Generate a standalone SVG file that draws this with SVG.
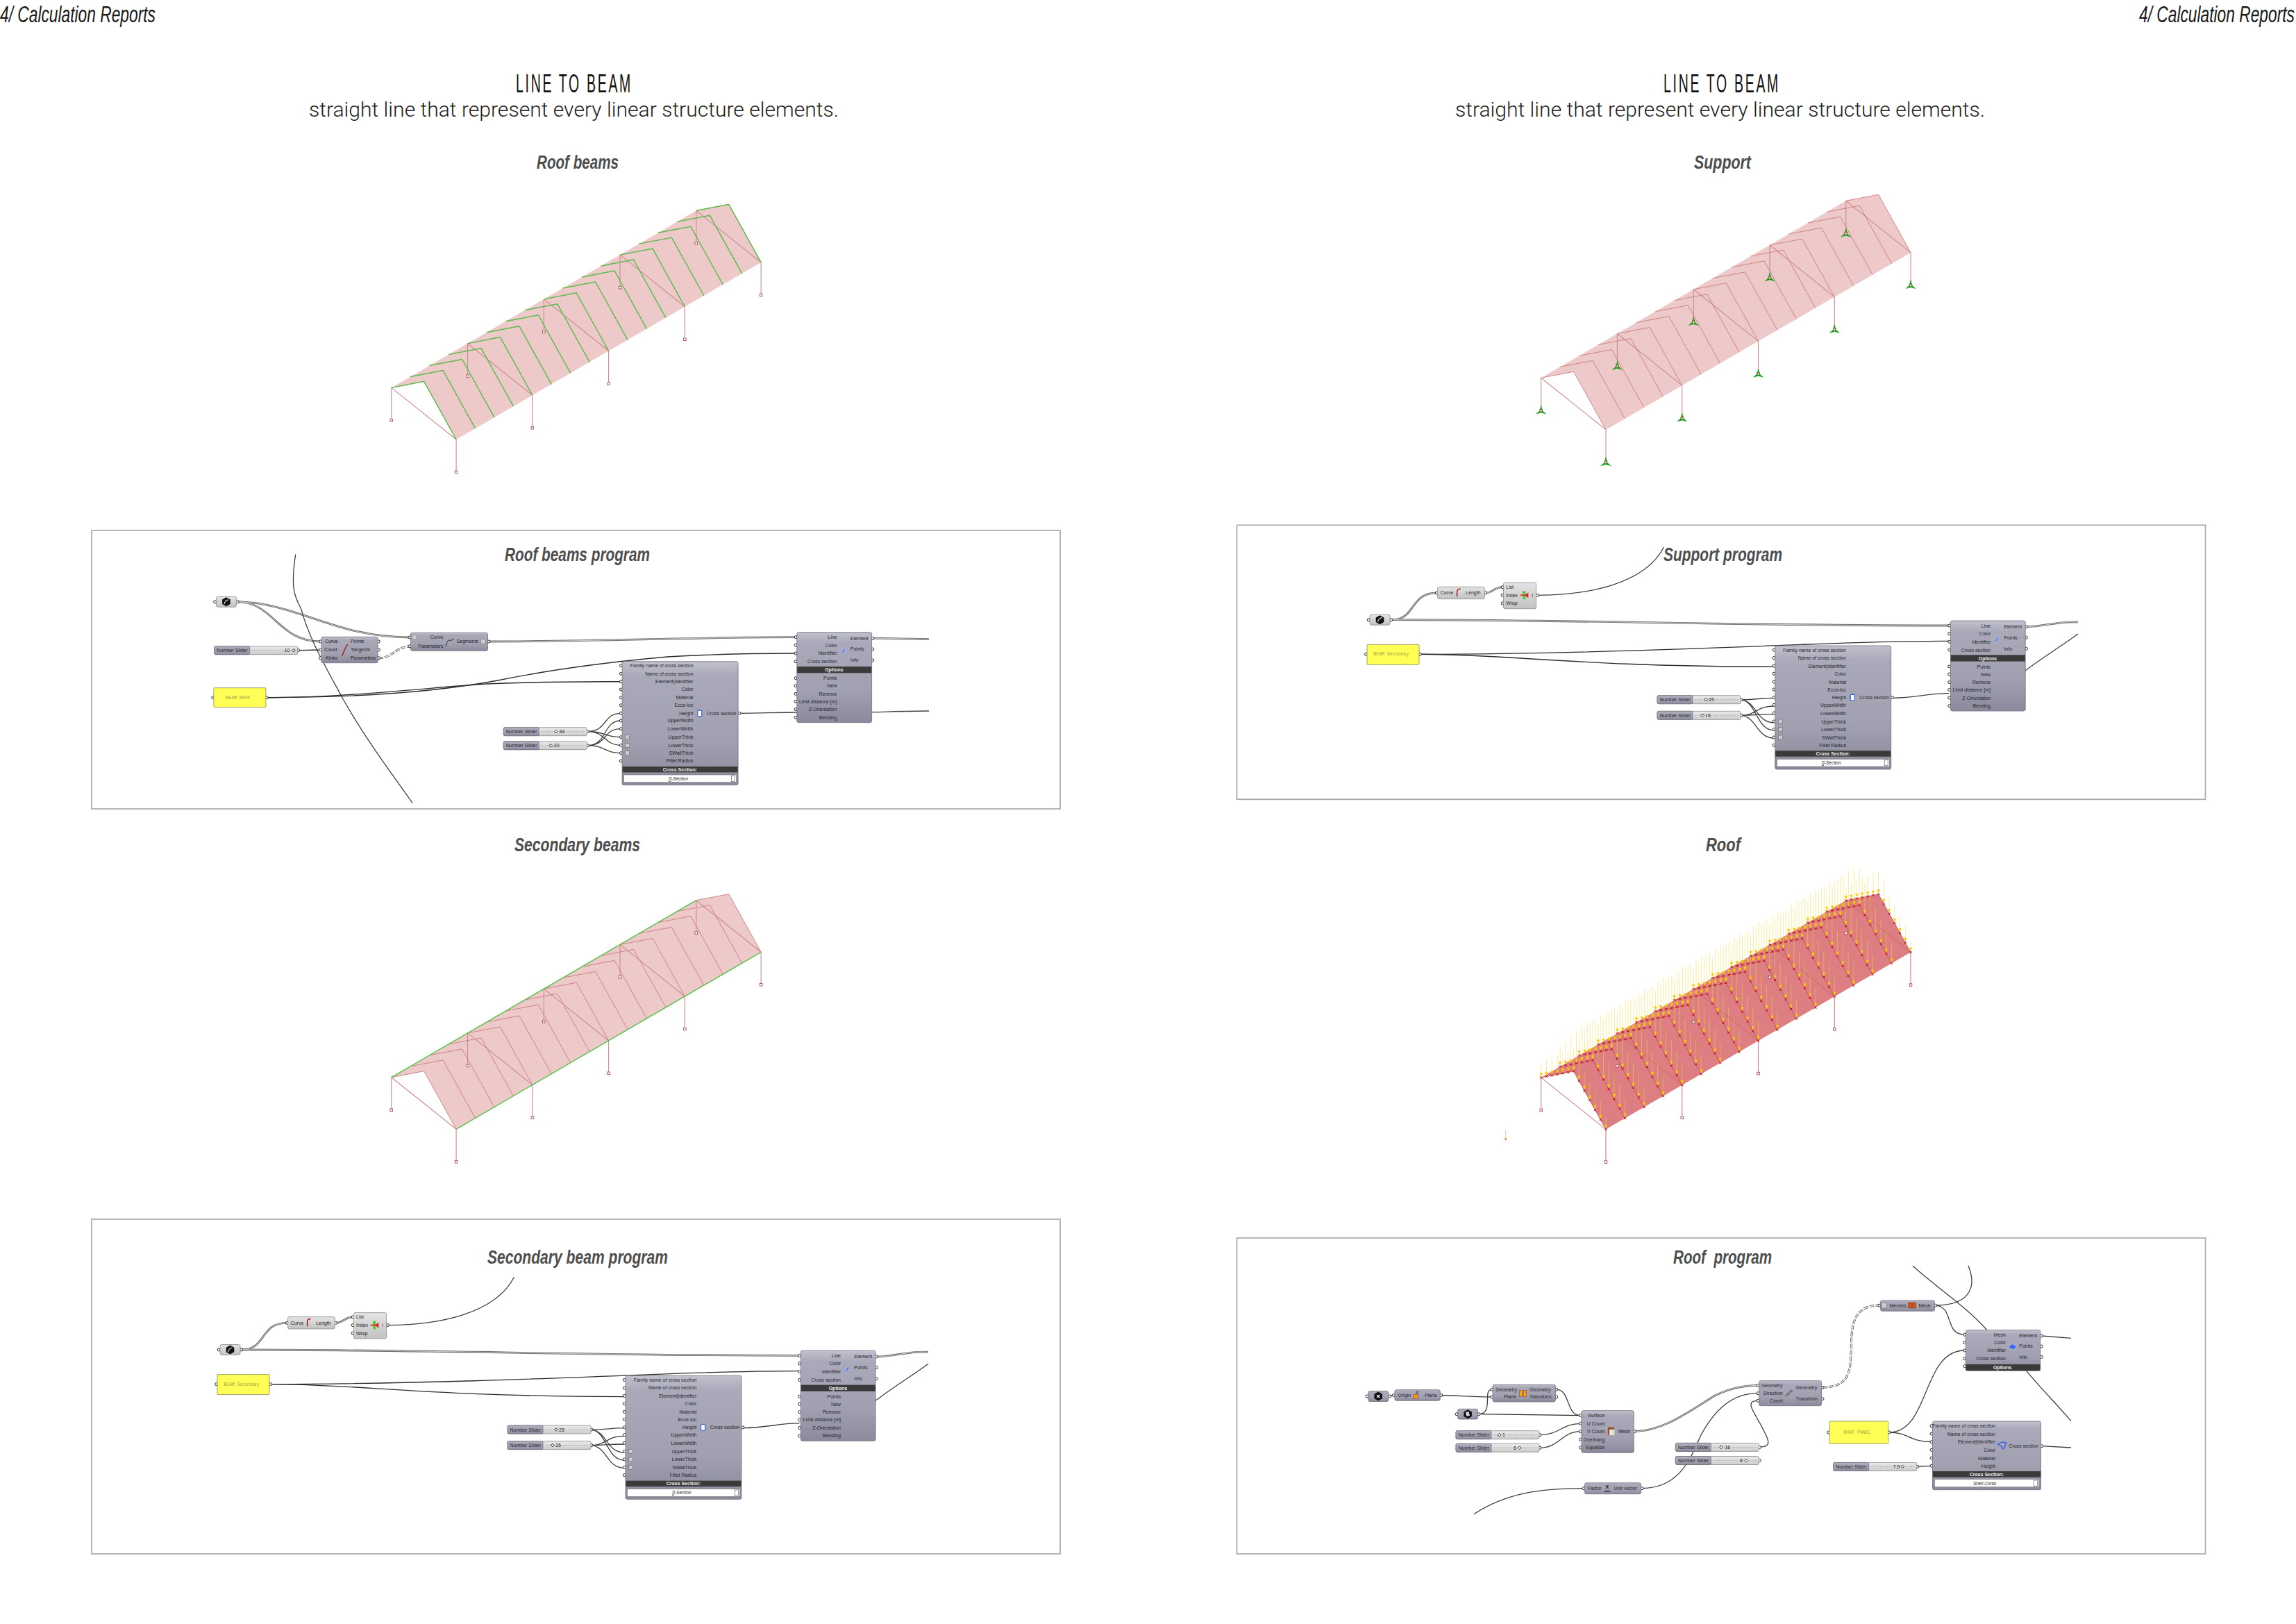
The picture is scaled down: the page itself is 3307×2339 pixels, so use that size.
<svg xmlns="http://www.w3.org/2000/svg" width="3307" height="2339" viewBox="0 0 3307 2339">
<style>
text{font-family:"Liberation Sans",Arial,sans-serif}
.h{font-size:33px;font-style:italic;fill:#1a1a1a}
.ti{font-family:"Liberation Sans Narrow","Liberation Sans",sans-serif;font-size:36px;letter-spacing:5px;fill:#111}
.su{font-family:Roboto,"Liberation Sans",sans-serif;font-weight:300;font-size:30px;fill:#222}
.la{font-size:27px;font-weight:700;font-style:italic;fill:#4d4d4d}
.t{font-size:7px;fill:#26262e}
.r{text-anchor:end}
.c{text-anchor:middle}
.bw{font-size:7px;font-weight:700;fill:#f2f2f2;text-anchor:middle}
.i{font-style:italic;font-size:6.5px;fill:#222;text-anchor:middle}
.ym{font-family:"Liberation Mono",monospace;font-size:6.5px;fill:#a3a347;text-anchor:middle}
.fr{fill:#fff;stroke:#aaa;stroke-width:1.7}
.b{fill:url(#g);stroke:#6f6f7d;stroke-width:.8}
.l{fill:url(#gl);stroke:#8a8a8a;stroke-width:.8}
.sl{fill:url(#gs);stroke:#8a8a8a;stroke-width:.8}
.p{fill:#fff;stroke:#111;stroke-width:.9}
.y{fill:#ffff55;stroke:#85855f;stroke-width:.8}
.bar{fill:#3a3a3a}
.w{fill:none;stroke:#3f3f3f;stroke-width:1.3}
.wk{fill:none;stroke:#2c2c2c;stroke-width:1.35}
.dk{fill:none;stroke:#555;stroke-width:3;stroke-dasharray:7 2}
.dw{fill:none;stroke:#eee;stroke-width:1.5;stroke-dasharray:7 2}
.rf{fill:#eec9c9;stroke:none}
.fl{fill:none;stroke:#c97a7d;stroke-width:.9}
.cl{fill:none;stroke:#c98b8e;stroke-width:1.1}
.sq{fill:#fff;stroke:#a94a50;stroke-width:.9}
.gn{fill:none;stroke:#57c24c;stroke-width:1.4}
</style>
<defs>
<linearGradient id="g" x1="0" y1="0" x2="0" y2="1"><stop offset="0" stop-color="#c0c0ce"/><stop offset=".12" stop-color="#a9a9b9"/><stop offset=".65" stop-color="#a0a0b0"/><stop offset="1" stop-color="#8a8a9c"/></linearGradient>
<linearGradient id="gl" x1="0" y1="0" x2="0" y2="1"><stop offset="0" stop-color="#e4e4e4"/><stop offset="1" stop-color="#c2c2c2"/></linearGradient>
<linearGradient id="gs" x1="0" y1="0" x2="0" y2="1"><stop offset="0" stop-color="#e9e9e9"/><stop offset="1" stop-color="#cdcdcd"/></linearGradient>
<path id="fr" d="M0 0l46.9-9 46.4 83.6M27.44-15.94l46.9-9 46.4 83.6M54.88-31.88l46.9-9 46.4 83.6M82.32-47.82l46.9-9 46.4 83.6M109.76-63.76l46.9-9 46.4 83.6M137.2-79.7l46.9-9 46.4 83.6M164.64-95.64l46.9-9 46.4 83.6M192.08-111.58l46.9-9 46.4 83.6M219.52-127.52l46.9-9 46.4 83.6M246.96-143.46l46.9-9 46.4 83.6M274.4-159.4l46.9-9 46.4 83.6M301.84-175.34l46.9-9 46.4 83.6M329.28-191.28l46.9-9 46.4 83.6M356.72-207.22l46.9-9 46.4 83.6M384.16-223.16l46.9-9 46.4 83.6M411.6-239.1l46.9-9 46.4 83.6M439.04-255.04l46.9-9 46.4 83.6"/>
<path id="cols" d="M0 0v47M93.3 74.6v47M109.76-63.76v47M203.06 10.84v47M219.52-127.52v47M312.82-52.92v47M329.28-191.28v47M422.58-116.68v47M439.04-255.04v47M532.34-180.44v47"/>
<path id="diag" d="M0 0l93.3 74.6M109.76-63.76l93.3 74.6M219.52-127.52l93.3 74.6M329.28-191.28l93.3 74.6M439.04-255.04l93.3 74.6"/>
<polygon id="poly" points="0,0 46.9,-9 93.3,74.6 532.3,-180.4 485.9,-264 439,-255"/>
<g id="sqs"><rect class="sq" x="-1.8" y="45.2" width="3.6" height="3.6"/><rect class="sq" x="91.5" y="119.8" width="3.6" height="3.6"/><rect class="sq" x="108" y="-18.6" width="3.6" height="3.6"/><rect class="sq" x="201.3" y="56" width="3.6" height="3.6"/><rect class="sq" x="217.7" y="-82.3" width="3.6" height="3.6"/><rect class="sq" x="311" y="-7.7" width="3.6" height="3.6"/><rect class="sq" x="327.5" y="-146.1" width="3.6" height="3.6"/><rect class="sq" x="420.8" y="-71.5" width="3.6" height="3.6"/><rect class="sq" x="437.2" y="-209.8" width="3.6" height="3.6"/><rect class="sq" x="530.5" y="-135.2" width="3.6" height="3.6"/></g>
<g id="roof"><use href="#poly" class="rf"/><use href="#cols" class="cl"/><use href="#diag" class="cl"/><use href="#fr" class="fl"/><use href="#sqs"/></g>
<g id="tri"><path d="M0-7.5L1.9 .2 7.2 5 0 3-7.2 5-1.9 .2Z" fill="#0ea50e" stroke="#0a8a0a" stroke-width=".3"/><path d="M0-2.2L2 1.4H-2Z" fill="#fff" stroke="#a94a50" stroke-width=".6"/></g>
<g id="pt"><path d="M-2.3-6.8h4.6L0-1.6Z" fill="#ffc800"/><path d="M-1.5-1.5L1.5 1.5M1.5-1.5L-1.5 1.5" stroke="#c40000" stroke-width="1"/></g>
<g id="lt"><use href="#pt"/><use href="#pt" x="7.8" y="-1.5"/><use href="#pt" x="15.6" y="-3"/><use href="#pt" x="23.5" y="-4.5"/><use href="#pt" x="31.3" y="-6"/><use href="#pt" x="39.1" y="-7.5"/><use href="#pt" x="46.9" y="-9"/><use href="#pt" x="54.6" y="4.9"/><use href="#pt" x="62.4" y="18.9"/><use href="#pt" x="70.1" y="32.8"/><use href="#pt" x="77.8" y="46.7"/><use href="#pt" x="85.6" y="60.7"/><use href="#pt" x="93.3" y="74.6"/></g>
<path id="li" d="M0-6v-24M7.8-7.5v-30M15.6-9v-36M23.5-10.5v-41M31.3-12v-46M39.1-13.5v-50M46.9-15v-50M54.6-1.1v-40M62.4 12.9v-34M70.1 26.8v-32M77.8 40.7v-30M85.6 54.7v-28M93.3 68.6v-22" fill="none" stroke="#f5d93a" stroke-width=".9" opacity=".55"/>
<path id="le" d="M0-6v-12M7.8-7.5v-18M15.6-9v-20M23.5-10.5v-22M31.3-12v-24M39.1-13.5v-26M46.9-15v-26M54.6-1.1v-28M62.4 12.9v-20M70.1 26.8v-20M77.8 40.7v-20M85.6 54.7v-20M93.3 68.6v-10" fill="none" stroke="#f5d93a" stroke-width=".9" opacity=".55"/>
<path id="dm" d="M0-2.3L2.3 0 0 2.3-2.3 0Z" fill="#fff" stroke="#111" stroke-width=".9"/>
<g id="slb"><circle class="p" cx="121" cy="6" r="2"/><rect class="sl" width="120" height="12" rx="2"/><path d="M55 6H116" stroke="#aaa" stroke-dasharray="1 1.5" stroke-width="1.2"/><rect class="b" width="51" height="12" rx="2"/></g>
<g id="cf"><path d="M14.5 1l5.8 3.2v6.6L14.5 14l-5.8-3.2V4.2Z" fill="#111"/></g>
<g id="prl"><circle class="p" cx="-1.8" cy="7.5" r="2"/><circle class="p" cx="30.8" cy="7.5" r="2"/><rect class="l" width="29" height="15" rx="2.5"/><use href="#cf"/><path d="M11.5 10.5Q13 5 17.5 4.5" fill="none" stroke="#ddd" stroke-width="1.2"/></g>
<g id="csb"><circle class="p" cx="-1.7" cy="6" r="2"/><circle class="p" cx="-1.7" cy="17.6" r="2"/><circle class="p" cx="-1.7" cy="29" r="2"/><circle class="p" cx="-1.7" cy="40.3" r="2"/><circle class="p" cx="-1.7" cy="52" r="2"/><circle class="p" cx="-1.7" cy="63" r="2"/><circle class="p" cx="-1.7" cy="74.6" r="2"/><circle class="p" cx="-1.7" cy="85.3" r="2"/><circle class="p" cx="-1.7" cy="97" r="2"/><circle class="p" cx="-1.7" cy="109" r="2"/><circle class="p" cx="-1.7" cy="120.6" r="2"/><circle class="p" cx="-1.7" cy="132" r="2"/><circle class="p" cx="-1.7" cy="143.3" r="2"/><circle class="p" cx="168.9" cy="74.6" r="2"/><rect class="b" width="167" height="178" rx="2.5"/><rect class="bar" x=".5" y="151.3" width="166" height="8.4"/><rect x="2.6" y="163.3" width="162" height="10.7" fill="#fff" stroke="#777" stroke-width=".6"/><rect x="157.5" y="164.6" width="5" height="8.2" fill="#fff" stroke="#666" stroke-width=".7"/><rect x="108.6" y="70.4" width="6" height="8.6" rx="1" fill="#fff" stroke="#2f56d8" stroke-width="1.1"/><g fill="#ccc" stroke="#666" stroke-width=".6"><rect x="4.6" y="106" width="6" height="6"/><rect x="4.6" y="117.6" width="6" height="6"/><rect x="4.6" y="129" width="6" height="6"/></g></g>
<g id="lbb"><circle class="p" cx="-1.7" cy="7" r="2"/><circle class="p" cx="-1.7" cy="18.6" r="2"/><circle class="p" cx="-1.7" cy="30.3" r="2"/><circle class="p" cx="-1.7" cy="42" r="2"/><circle class="p" cx="-1.7" cy="66" r="2"/><circle class="p" cx="-1.7" cy="77" r="2"/><circle class="p" cx="-1.7" cy="88.6" r="2"/><circle class="p" cx="-1.7" cy="99.6" r="2"/><circle class="p" cx="-1.7" cy="111" r="2"/><circle class="p" cx="-1.7" cy="122.6" r="2"/><circle class="p" cx="109" cy="8.6" r="2"/><circle class="p" cx="109" cy="24.3" r="2"/><circle class="p" cx="109" cy="40.3" r="2"/><rect class="b" width="107.8" height="130" rx="2.5"/><rect class="bar" x=".4" y="49.3" width="107" height="9.3"/><path d="M64.5 28.5l3-5.8 2.4 1.2-3 5.8-2.6 1.2Z" fill="#4f7df0" stroke="#d8e2ff" stroke-width=".5"/></g>
</defs>
<rect width="3307" height="2339" fill="#fff"/>
<g id="headers">
<text class="h" transform="translate(0 32) scale(.69 1)">4/ Calculation Reports</text>
<text class="h" transform="translate(3081 32) scale(.69 1)">4/ Calculation Reports</text>
<text class="ti" x="743" y="133" textLength="168" lengthAdjust="spacingAndGlyphs">LINE TO BEAM</text>
<text class="ti" x="2396" y="133" textLength="168" lengthAdjust="spacingAndGlyphs">LINE TO BEAM</text>
<text class="su" x="445" y="168" textLength="763" lengthAdjust="spacingAndGlyphs">straight line that represent every linear structure elements.</text>
<text class="su" x="2096" y="168" textLength="763" lengthAdjust="spacingAndGlyphs">straight line that represent every linear structure elements.</text>
<text class="la" x="773" y="243" textLength="118" lengthAdjust="spacingAndGlyphs">Roof beams</text>
<text class="la" x="2440" y="243" textLength="82" lengthAdjust="spacingAndGlyphs">Support</text>
<text class="la" x="741" y="1226" textLength="181" lengthAdjust="spacingAndGlyphs">Secondary beams</text>
<text class="la" x="2457" y="1226" textLength="50" lengthAdjust="spacingAndGlyphs">Roof</text>
</g>
<g id="frames">
<rect class="fr" x="132" y="764" width="1395" height="401"/>
<rect class="fr" x="1781.5" y="756.3" width="1395" height="395"/>
<rect class="fr" x="132" y="1756" width="1395" height="482"/>
<rect class="fr" x="1781.5" y="1783" width="1395" height="455"/>
</g>
<g id="roof-beams" transform="translate(563.8 558.4)"><use href="#roof"/><use href="#fr" class="gn"/></g>
<g id="support" transform="translate(2219.7 544.3)"><use href="#roof"/><use href="#tri" x="0" y="47"/><use href="#tri" x="93.3" y="121.6"/><use href="#tri" x="109.76" y="-16.76"/><use href="#tri" x="203.06" y="57.84"/><use href="#tri" x="219.52" y="-80.52"/><use href="#tri" x="312.82" y="-5.92"/><use href="#tri" x="329.28" y="-144.28"/><use href="#tri" x="422.58" y="-69.68"/><use href="#tri" x="439.04" y="-208.04"/><use href="#tri" x="532.34" y="-133.44"/></g>
<g id="secondary-beams" transform="translate(563.8 1551.7)"><use href="#roof"/><path class="gn" d="M0 0L439-255M93.3 74.6L532.3-180.4"/></g>
<g id="roof-loads" transform="translate(2219.7 1552)">
<use href="#poly" fill="#dd7f82"/><use href="#cols" fill="none" stroke="#c98b8e" stroke-width="1.2"/><use href="#diag" fill="none" stroke="#c7656a" stroke-width="1"/><use href="#fr" fill="none" stroke="#bf4a50" stroke-width=".8"/><use href="#sqs"/>
<use href="#le"/><use href="#li" x="27.44" y="-15.94"/><use href="#li" x="54.88" y="-31.88"/><use href="#li" x="82.32" y="-47.82"/><use href="#li" x="109.76" y="-63.76"/><use href="#li" x="137.2" y="-79.7"/><use href="#li" x="164.64" y="-95.64"/><use href="#li" x="192.08" y="-111.58"/><use href="#li" x="219.52" y="-127.52"/><use href="#li" x="246.96" y="-143.46"/><use href="#li" x="274.4" y="-159.4"/><use href="#li" x="301.84" y="-175.34"/><use href="#li" x="329.28" y="-191.28"/><use href="#li" x="356.72" y="-207.22"/><use href="#li" x="384.16" y="-223.16"/><use href="#li" x="411.6" y="-239.1"/><use href="#le" x="439.04" y="-255.04"/>
<use href="#lt"/><use href="#lt" x="27.44" y="-15.94"/><use href="#lt" x="54.88" y="-31.88"/><use href="#lt" x="82.32" y="-47.82"/><use href="#lt" x="109.76" y="-63.76"/><use href="#lt" x="137.2" y="-79.7"/><use href="#lt" x="164.64" y="-95.64"/><use href="#lt" x="192.08" y="-111.58"/><use href="#lt" x="219.52" y="-127.52"/><use href="#lt" x="246.96" y="-143.46"/><use href="#lt" x="274.4" y="-159.4"/><use href="#lt" x="301.84" y="-175.34"/><use href="#lt" x="329.28" y="-191.28"/><use href="#lt" x="356.72" y="-207.22"/><use href="#lt" x="384.16" y="-223.16"/><use href="#lt" x="411.6" y="-239.1"/><use href="#lt" x="439.04" y="-255.04"/>
<path d="M-51 75v14" stroke="#e3c7a3" stroke-width="1"/><path d="M-53 87h4l-2 4Z" fill="#e09a4a"/>
</g>
<g id="connectors">
<g stroke="#6f6f6f" stroke-width="2.8" fill="none"><g id="wt">
<path d="M340.7 866.7C430 868 480 918 591 918"/>
<path d="M340.7 866.7C395 866.7 400 924 462 924"/>
<path d="M703 924C850 924 1000 917.7 1146 917.7"/>
<path d="M1257 919.3C1285 919.3 1310 920 1338 920.7"/>
<path d="M2004 892.7C2040 892.7 2030 854 2069 854"/>
<path d="M2004 892.7C2300 893 2500 901 2807 901"/>
<path d="M2140 854C2150 854 2152 845.7 2164 845.7"/>
<path d="M2918 902.7C2945 902.7 2965 894 2993 896"/>
<path d="M348 1944C384 1944 374 1905.4 413 1905.4"/>
<path d="M348 1944C644 1944.3 844 1952.3 1151 1952.3"/>
<path d="M484 1905.4C494 1905.4 496 1897 508 1897"/>
<path d="M1262 1954C1289 1954 1309 1945.3 1337 1947.3"/>
<path d="M2354 2061.7C2395 2061 2430 2035 2470 2010C2490 2000 2510 1995.5 2532 1995.3"/>
</g></g>
<use href="#wt" stroke="#c9c9c9" stroke-width="1" fill="none"/>
<path class="w" d="M425.7 798.3C418 850 425 860 433.6 876.7C445 920 470 962 494 1006.7C530 1070 565 1115 594.3 1156.7"/>
<path class="wk" d="M429 936.7L463 936"/>
<path class="dk" d="M545 948C565 948 570 931 591 931"/><path class="dw" d="M545 948C565 948 570 931 591 931"/>
<path class="wk" d="M384 1004.7C500 1004.7 620 998 717 980C790 965 860 955 961 946C1030 942 1090 941 1146 941"/>
<path class="wk" d="M384 1004.7C500 1004.7 620 990 700 985C760 982 830 982 894 981.7"/>
<path class="w" d="M1065 1027.3C1100 1027 1120 1026 1148 1026M1256 1025.7C1285 1025 1310 1024 1338 1024"/>
<path class="w" d="M846.5 1053.5C875 1053.5 868 1027.3 894.4 1027.3M846.5 1053.5C872 1053.5 870 1061.7 894.4 1061.7M846.5 1053.5C872 1053.5 870 1073.3 894.4 1073.3M846.5 1073.5C875 1073.5 868 1038 894.4 1038M846.5 1073.5C875 1073.5 868 1049.7 894.4 1049.7M846.5 1073.5C872 1073.5 870 1084.7 894.4 1084.7"/>
<path class="w" d="M2214.5 857.3C2290 857 2370 840 2396.5 788"/>
<path class="wk" d="M2046 942.3C2250 942 2450 934 2603 928C2680 925 2750 923.3 2807 923.3"/>
<path class="wk" d="M2046 942.3C2170 942 2270 960 2555 960.3"/>
<path class="w" d="M2726.5 1005.3C2760 1005.3 2780 998 2807.4 998.7"/>
<path class="w" d="M2916 966.7C2945 945 2970 930 2993 913"/>
<path class="w" d="M2507.6 1007.8C2530 1007.8 2535 1005.3 2554.7 1005.3M2507.6 1007.8C2530 1010 2530 1040.7 2554.7 1040.7M2507.6 1007.8C2530 1010 2530 1051.7 2554.7 1051.7M2507.6 1030.4C2530 1030 2530 1017 2554.7 1017M2507.6 1030.4C2530 1030 2530 1028.7 2554.7 1028.7M2507.6 1030.4C2530 1032 2530 1063 2554.7 1063"/>
<path class="w" d="M558.5 1908.6C634 1908.3 714 1891.3 740.5 1839.3"/>
<path class="wk" d="M390 1993.6C594 1993.3 794 1985.3 947 1979.3C1024 1976.3 1094 1974.6 1151 1974.6"/>
<path class="wk" d="M390 1993.6C514 1993.3 614 2011.3 899 2011.6"/>
<path class="w" d="M1070.5 2056.6C1104 2056.6 1124 2049.3 1151.4 2050"/>
<path class="w" d="M1260 2018C1289 1996.3 1314 1981.3 1337 1964.3"/>
<path class="w" d="M851.6 2059.1C874 2059.1 879 2056.6 898.7 2056.6M851.6 2059.1C874 2061.3 874 2092 898.7 2092M851.6 2059.1C874 2061.3 874 2103 898.7 2103M851.6 2081.7C874 2081.3 874 2068.3 898.7 2068.3M851.6 2081.7C874 2081.3 874 2080 898.7 2080M851.6 2081.7C874 2083.3 874 2114.3 898.7 2114.3"/>
<path class="w" d="M2000 2011L2007 2009.5M2075.5 2009.5C2100 2010 2120 2012 2148.6 2012"/>
<path class="wk" d="M2130 2036.7L2276.4 2038.7"/>
<path class="w" d="M2130 2036.7C2152 2036 2135 2001 2148.6 2001.3M2241.8 2001.3C2262 2001.3 2255 2038.7 2276.4 2038.7M2218.2 2066.7C2245 2066.7 2250 2050.3 2276.4 2050.3M2218.2 2085.3C2245 2085.3 2250 2061.7 2276.4 2061.7M2123 2180.7C2170 2150 2220 2143.7 2281 2143.7"/>
<path class="w" d="M2365 2143.7C2420 2143 2435 2100 2450 2066.7C2470 2030 2495 2006.7 2532 2006.7"/>
<path class="w" d="M2534.3 2084C2556 2084 2545 2070 2535 2050C2522 2028 2515 2017.3 2532 2017.3"/>
<path class="dk" d="M2625 1998C2660 1998 2665 1980 2666 1950C2667 1915 2665 1880 2707 1880"/><path class="dw" d="M2625 1998C2660 1998 2665 1980 2666 1950C2667 1915 2665 1880 2707 1880"/>
<path class="w" d="M2787.7 1880C2815 1882 2800 1922 2829.8 1922.3M2787.7 1880C2830 1880 2850 1860 2835 1823M2755 1823.3C2790 1855 2830 1880 2862 1915.7M2918.6 1974.3C2940 2000 2960 2020 2983 2046.7M2940.4 1924L2983 1927.3M2940.8 2082.7L2983 2085"/>
<path class="w" d="M2721 2063C2780 2063 2768 1945 2829.8 1945M2721 2063C2750 2063 2750 2076.7 2782 2076.7M2762.4 2112L2782 2111.3"/>
</g>
<g id="program-labels">
<text class="la" x="727" y="808" textLength="209" lengthAdjust="spacingAndGlyphs">Roof beams program</text>
<text class="la" x="2396" y="808" textLength="171" lengthAdjust="spacingAndGlyphs">Support program</text>
<text class="la" x="702" y="1820" textLength="260" lengthAdjust="spacingAndGlyphs">Secondary beam program</text>
<text class="la" x="2410" y="1820" textLength="142" lengthAdjust="spacingAndGlyphs" xml:space="preserve">Roof  program</text>
</g>

<g id="p1-curve" transform="translate(311.4 859.3)"><use href="#prl"/></g>
<g id="p1-slider" transform="translate(308.6 930.7)"><use href="#slb"/><text class="t" x="3.5" y="8.6">Number Slider</text><text class="t" x="101" y="8.6">10</text><use href="#dm" x="114.5" y="6"/></g>
<g id="p1-divide" transform="translate(462.9 917.3)"><circle class="p" cx="-1.5" cy="6.7" r="2"/><circle class="p" cx="-1.5" cy="18.7" r="2"/><circle class="p" cx="-1.5" cy="30.4" r="2"/><circle class="p" cx="82.5" cy="6.7" r="2"/><circle class="p" cx="82.5" cy="18.7" r="2"/><circle class="p" cx="82.5" cy="30.4" r="2"/><rect class="b" width="81.4" height="37.4" rx="2.5"/><text class="t" x="5" y="9.2">Curve</text><text class="t" x="4" y="21.2">Count</text><text class="t" x="6" y="32.9">Kinks</text><text class="t" x="42" y="9.2">Points</text><text class="t" x="42" y="21.2">Tangents</text><text class="t" x="42" y="32.9">Parameters</text><path d="M30 27Q36 12 38 11" fill="none" stroke="#a11" stroke-width="1.4"/></g>
<g id="p1-shatter" transform="translate(591.4 911.3)"><circle class="p" cx="-1.5" cy="6.7" r="2"/><circle class="p" cx="-1.5" cy="19.4" r="2"/><circle class="p" cx="112.6" cy="12.7" r="2"/><rect class="b" width="111.1" height="26" rx="2.5"/><rect x="2" y="3" width="7" height="7" rx="1" fill="#ccc" stroke="#666" stroke-width=".6"/><rect x="101" y="9" width="7" height="7" rx="1" fill="#ccc" stroke="#666" stroke-width=".6"/><text class="t r" x="47" y="9.2">Curve</text><text class="t r" x="47" y="21.9">Parameters</text><text class="t" x="66" y="15.2">Segments</text><path d="M51 19Q53 10 56 11T62 8" fill="none" stroke="#222" stroke-width="1.2" stroke-dasharray="2 1"/></g>
<g id="p1-panel" transform="translate(307.9 990.7)"><circle class="p" cx="-1.2" cy="14" r="2"/><circle class="p" cx="76.2" cy="14" r="2"/><rect class="y" width="75" height="28" rx="1"/><text class="ym" x="35" y="16">BEAM ROOF</text></g>
<g id="p1-slider34" transform="translate(725.3 1047.7)"><use href="#slb"/><text class="t" x="3.5" y="8.6">Number Slider</text><use href="#dm" x="75.7" y="6"/><text class="t" x="80" y="8.6">34</text></g>
<g id="p1-slider20" transform="translate(725.3 1067.7)"><use href="#slb"/><text class="t" x="3.5" y="8.6">Number Slider</text><use href="#dm" x="68" y="6"/><text class="t" x="72.5" y="8.6">20</text></g>
<g id="p1-section" transform="translate(896.1 952.7)"><use href="#csb"/><text class="t r" x="102.3" y="8.5">Family name of cross section</text><text class="t r" x="102.3" y="20.1">Name of cross section</text><text class="t r" x="102.3" y="31.5" font-size="6">Element|Identifier</text><text class="t r" x="102.3" y="42.8">Color</text><text class="t r" x="102.3" y="54.5">Material</text><text class="t r" x="102.3" y="65.5">Ecce-loc</text><text class="t r" x="102.3" y="77.1">Height</text><text class="t r" x="102.3" y="87.8">UpperWidth</text><text class="t r" x="102.3" y="99.5">LowerWidth</text><text class="t r" x="102.3" y="111.5">UpperThick</text><text class="t r" x="102.3" y="123.1">LowerThick</text><text class="t r" x="102.3" y="134.5">SWallThick</text><text class="t r" x="102.3" y="145.8">Fillet Radius</text><text class="t" x="121.7" y="77.1">Cross section</text><text class="bw" x="83.4" y="158">Cross Section:</text><text class="i" x="81" y="171">[]-Section</text></g>
<g id="p1-beam" transform="translate(1147.8 910.7)"><use href="#lbb"/><text class="t r" x="57.7" y="9.5">Line</text><text class="t r" x="57.7" y="21.1">Color</text><text class="t r" x="57.7" y="32.8">Identifier</text><text class="t r" x="57.7" y="44.5">Cross section</text><text class="t r" x="57.7" y="68.5">Points</text><text class="t r" x="57.7" y="79.5">New</text><text class="t r" x="57.7" y="91.1">Remove</text><text class="t r" x="57.7" y="102.1">Limit distance [m]</text><text class="t r" x="57.7" y="113.5">Z-Orientation</text><text class="t r" x="57.7" y="125.1">Bending</text><text class="t" x="77" y="11.1">Element</text><text class="t" x="77" y="26.8">Points</text><text class="t" x="77" y="42.8">Info</text><text class="bw" x="53.6" y="56.5">Options</text></g>

<g id="p2-curve" transform="translate(1973 885.2)"><use href="#prl"/></g>
<g id="p2-length" transform="translate(2070.6 845.3)"><circle class="p" cx="-1.3" cy="8.7" r="2"/><circle class="p" cx="69" cy="8.7" r="2"/><rect class="l" width="67.7" height="17.4" rx="2"/><text class="t" x="4" y="11.2">Curve</text><text class="t" x="40.5" y="11.2">Length</text><path d="M28 14V7Q28 3 33 3" fill="none" stroke="#a11" stroke-width="1.5"/></g>
<g id="p2-list" transform="translate(2165.5 839.3)"><circle class="p" cx="-1.3" cy="6.4" r="2"/><circle class="p" cx="-1.3" cy="18" r="2"/><circle class="p" cx="-1.3" cy="29.7" r="2"/><circle class="p" cx="49" cy="18" r="2"/><rect class="l" width="47" height="37.4" rx="2"/><text class="t" x="3.5" y="8.9">List</text><text class="t" x="3.5" y="20.5">Index</text><text class="t" x="3.5" y="32.2">Wrap</text><text class="t" x="41" y="20.5">i</text><rect x="27.5" y="12" width="4.5" height="12" fill="#6cc24a"/><path d="M24 18h8l3-2.4v4.8l-3-2.4" fill="#d22" stroke="#d22" stroke-width="1.6"/></g>
<g id="p2-panel" transform="translate(1969 928.3)"><circle class="p" cx="-1.5" cy="14" r="2"/><circle class="p" cx="76.5" cy="14" r="2"/><rect class="y" width="75" height="29" rx="1"/><text class="ym" x="34.7" y="16">BEAM Seconday</text></g>
<g id="p2-slider25" transform="translate(2387 1001.7)"><use href="#slb"/><text class="t" x="3.5" y="8.6">Number Slider</text><use href="#dm" x="70" y="6"/><text class="t" x="74" y="8.6">25</text></g>
<g id="p2-slider15" transform="translate(2387 1024.3)"><use href="#slb"/><text class="t" x="3.5" y="8.6">Number Slider</text><use href="#dm" x="65" y="6"/><text class="t" x="69" y="8.6">15</text></g>
<g id="p2-section" transform="translate(2556.7 930)"><use href="#csb"/><text class="t r" x="102.3" y="8.5">Family name of cross section</text><text class="t r" x="102.3" y="20.1">Name of cross section</text><text class="t r" x="102.3" y="31.5">Element|Identifier</text><text class="t r" x="102.3" y="42.8">Color</text><text class="t r" x="102.3" y="54.5">Material</text><text class="t r" x="102.3" y="65.5">Ecce-loc</text><text class="t r" x="102.3" y="77.1">Height</text><text class="t r" x="102.3" y="87.8">UpperWidth</text><text class="t r" x="102.3" y="99.5">LowerWidth</text><text class="t r" x="102.3" y="111.5">UpperThick</text><text class="t r" x="102.3" y="123.1">LowerThick</text><text class="t r" x="102.3" y="134.5">SWallThick</text><text class="t r" x="102.3" y="145.8">Fillet Radius</text><text class="t" x="121.7" y="77.1">Cross section</text><text class="bw" x="83.4" y="158">Cross Section:</text><text class="i" x="81" y="171">[]-Section</text></g>
<g id="p2-beam" transform="translate(2809.4 894)"><use href="#lbb"/><text class="t r" x="57.7" y="9.5">Line</text><text class="t r" x="57.7" y="21.1">Color</text><text class="t r" x="57.7" y="32.8">Identifier</text><text class="t r" x="57.7" y="44.5">Cross section</text><text class="t r" x="57.7" y="68.5">Points</text><text class="t r" x="57.7" y="79.5">New</text><text class="t r" x="57.7" y="91.1">Remove</text><text class="t r" x="57.7" y="102.1">Limit distance [m]</text><text class="t r" x="57.7" y="113.5">Z-Orientation</text><text class="t r" x="57.7" y="125.1">Bending</text><text class="t" x="77" y="11.1">Element</text><text class="t" x="77" y="26.8">Points</text><text class="t" x="77" y="42.8">Info</text><text class="bw" x="53.6" y="56.5">Options</text></g>

<g id="p3-curve" transform="translate(317 1936.5)"><use href="#prl"/></g>
<g id="p3-length" transform="translate(414.6 1896.6)"><circle class="p" cx="-1.3" cy="8.7" r="2"/><circle class="p" cx="69" cy="8.7" r="2"/><rect class="l" width="67.7" height="17.4" rx="2"/><text class="t" x="4" y="11.2">Curve</text><text class="t" x="40.5" y="11.2">Length</text><path d="M28 14V7Q28 3 33 3" fill="none" stroke="#a11" stroke-width="1.5"/></g>
<g id="p3-list" transform="translate(509.5 1890.6)"><circle class="p" cx="-1.3" cy="6.4" r="2"/><circle class="p" cx="-1.3" cy="18" r="2"/><circle class="p" cx="-1.3" cy="29.7" r="2"/><circle class="p" cx="49" cy="18" r="2"/><rect class="l" width="47" height="37.4" rx="2"/><text class="t" x="3.5" y="8.9">List</text><text class="t" x="3.5" y="20.5">Index</text><text class="t" x="3.5" y="32.2">Wrap</text><text class="t" x="41" y="20.5">i</text><rect x="27.5" y="12" width="4.5" height="12" fill="#6cc24a"/><path d="M24 18h8l3-2.4v4.8l-3-2.4" fill="#d22" stroke="#d22" stroke-width="1.6"/></g>
<g id="p3-panel" transform="translate(313 1979.6)"><circle class="p" cx="-1.5" cy="14" r="2"/><circle class="p" cx="76.5" cy="14" r="2"/><rect class="y" width="75" height="29" rx="1"/><text class="ym" x="34.7" y="16">BEAM Seconday</text></g>
<g id="p3-slider25" transform="translate(731 2053)"><use href="#slb"/><text class="t" x="3.5" y="8.6">Number Slider</text><use href="#dm" x="70" y="6"/><text class="t" x="74" y="8.6">25</text></g>
<g id="p3-slider15" transform="translate(731 2075.6)"><use href="#slb"/><text class="t" x="3.5" y="8.6">Number Slider</text><use href="#dm" x="65" y="6"/><text class="t" x="69" y="8.6">15</text></g>
<g id="p3-section" transform="translate(901 1981.3)"><use href="#csb"/><text class="t r" x="102.3" y="8.5">Family name of cross section</text><text class="t r" x="102.3" y="20.1">Name of cross section</text><text class="t r" x="102.3" y="31.5">Element|Identifier</text><text class="t r" x="102.3" y="42.8">Color</text><text class="t r" x="102.3" y="54.5">Material</text><text class="t r" x="102.3" y="65.5">Ecce-loc</text><text class="t r" x="102.3" y="77.1">Height</text><text class="t r" x="102.3" y="87.8">UpperWidth</text><text class="t r" x="102.3" y="99.5">LowerWidth</text><text class="t r" x="102.3" y="111.5">UpperThick</text><text class="t r" x="102.3" y="123.1">LowerThick</text><text class="t r" x="102.3" y="134.5">SWallThick</text><text class="t r" x="102.3" y="145.8">Fillet Radius</text><text class="t" x="121.7" y="77.1">Cross section</text><text class="bw" x="83.4" y="158">Cross Section:</text><text class="i" x="81" y="171">[]-Section</text></g>
<g id="p3-beam" transform="translate(1153.3 1945.3)"><use href="#lbb"/><text class="t r" x="57.7" y="9.5">Line</text><text class="t r" x="57.7" y="21.1">Color</text><text class="t r" x="57.7" y="32.8">Identifier</text><text class="t r" x="57.7" y="44.5">Cross section</text><text class="t r" x="57.7" y="68.5">Points</text><text class="t r" x="57.7" y="79.5">New</text><text class="t r" x="57.7" y="91.1">Remove</text><text class="t r" x="57.7" y="102.1">Limit distance [m]</text><text class="t r" x="57.7" y="113.5">Z-Orientation</text><text class="t r" x="57.7" y="125.1">Bending</text><text class="t" x="77" y="11.1">Element</text><text class="t" x="77" y="26.8">Points</text><text class="t" x="77" y="42.8">Info</text><text class="bw" x="53.6" y="56.5">Options</text></g>

<g id="p4-param" transform="translate(1970.7 2003.5)"><circle class="p" cx="-1.8" cy="7.5" r="2"/><circle class="p" cx="30.8" cy="7.5" r="2"/><rect class="b" width="29" height="15" rx="2.5"/><use href="#cf"/><path d="M12.5 5.5l4 4M16.5 5.5l-4 4" stroke="#fff" stroke-width="1.3"/></g>
<g id="p4-xz" transform="translate(2008.9 2001.7)"><circle class="p" cx="-1.5" cy="7.8" r="2"/><circle class="p" cx="66.9" cy="7.8" r="2"/><rect class="b" width="65.4" height="15.6" rx="2.5"/><text class="t" x="4.7" y="10.3">Origin</text><text class="t" x="43" y="10.3">Plane</text><rect x="27" y="7" width="6.5" height="5.5" fill="#f0a000" stroke="#b33" stroke-width=".7"/><text x="30" y="5" font-size="4" font-weight="700" fill="#222">XZ</text></g>
<g id="p4-mirror" transform="translate(2150 1994.3)"><circle class="p" cx="-1.4" cy="7" r="2"/><circle class="p" cx="-1.4" cy="17.7" r="2"/><circle class="p" cx="91.8" cy="7" r="2"/><circle class="p" cx="91.8" cy="17.7" r="2"/><rect class="b" width="90.4" height="24.7" rx="2.5"/><text class="t" x="4.3" y="9.5">Geometry</text><text class="t r" x="34" y="20.2">Plane</text><text class="t" x="53" y="9.5">Geometry</text><text class="t" x="53" y="20.2">Transform</text><rect x="38.5" y="8" width="4" height="9" fill="#f4a800" stroke="#a33" stroke-width=".6"/><rect x="44.5" y="8" width="4" height="9" fill="#f4a800" stroke="#a33" stroke-width=".6"/></g>
<g id="p4-surface" transform="translate(2099.6 2029.3)"><circle class="p" cx="-1.6" cy="7.4" r="2"/><circle class="p" cx="30.4" cy="7.4" r="2"/><rect class="b" width="29" height="14.7" rx="2.5"/><use href="#cf"/><path d="M11.5 5l4-1.5 2 6-5 1Z" fill="#ddd"/></g>
<g id="p4-mesh" transform="translate(2277.9 2031.7)"><circle class="p" cx="-1.5" cy="7" r="2"/><circle class="p" cx="-1.5" cy="18.6" r="2"/><circle class="p" cx="-1.5" cy="30" r="2"/><circle class="p" cx="-1.5" cy="41.6" r="2"/><circle class="p" cx="-1.5" cy="53.3" r="2"/><circle class="p" cx="76.4" cy="30" r="2"/><rect class="b" width="75.3" height="60.6" rx="2.5"/><text class="t r" x="33.5" y="9.5">Surface</text><text class="t r" x="33.5" y="21.1">U Count</text><text class="t r" x="33.5" y="32.5">V Count</text><text class="t r" x="33.5" y="44.1">Overhang</text><text class="t r" x="33.5" y="55.8">Equalize</text><text class="t" x="53.1" y="32.5">Mesh</text><rect x="38" y="24" width="9" height="11" fill="#9a4a1d"/><rect x="40" y="27" width="8" height="9" fill="#e8e2d8" stroke="#777" stroke-width=".4"/></g>
<g id="p4-slider1" transform="translate(2097 2060.7)"><use href="#slb"/><text class="t" x="3.5" y="8.6">Number Slider</text><use href="#dm" x="62.6" y="6"/><text class="t" x="67" y="8.6">1</text></g>
<g id="p4-slider6" transform="translate(2097 2079.3)"><use href="#slb"/><text class="t" x="3.5" y="8.6">Number Slider</text><text class="t" x="83" y="8.6">6</text><use href="#dm" x="91.6" y="6"/></g>
<g id="p4-unit" transform="translate(2282.5 2135.7)"><circle class="p" cx="-1.5" cy="8" r="2"/><circle class="p" cx="82.5" cy="8" r="2"/><rect class="b" width="81.1" height="16" rx="2.5"/><text class="t" x="4.3" y="10.5">Factor</text><text class="t" x="42" y="10.5">Unit vector</text><text x="30" y="8" font-size="7" font-weight="700" font-family="Liberation Serif" fill="#111">X</text><path d="M28 12h9" stroke="#111" stroke-width="1.2"/></g>
<g id="p4-slider16" transform="translate(2413.4 2078.4)"><use href="#slb"/><text class="t" x="3.5" y="8.6">Number Slider</text><use href="#dm" x="65.6" y="6"/><text class="t" x="71" y="8.6">16</text></g>
<g id="p4-slider8" transform="translate(2413.4 2097.5)"><use href="#slb"/><text class="t" x="3.5" y="8.6">Number Slider</text><text class="t" x="92.6" y="8.6">8</text><use href="#dm" x="101.6" y="6"/></g>
<g id="p4-array" transform="translate(2533.6 1988.7)"><circle class="p" cx="-1.5" cy="6.6" r="2"/><circle class="p" cx="-1.5" cy="18" r="2"/><circle class="p" cx="-1.5" cy="28.6" r="2"/><circle class="p" cx="91.4" cy="9.6" r="2"/><circle class="p" cx="91.4" cy="26" r="2"/><rect class="b" width="89.9" height="36" rx="2.5"/><text class="t r" x="34" y="9.1">Geometry</text><text class="t r" x="34" y="20.5">Direction</text><text class="t r" x="34" y="31.1">Count</text><text class="t" x="53" y="12.1">Geometry</text><text class="t" x="53" y="28.5">Transform</text><path d="M38.5 22L48 13.5" stroke="#222" stroke-width="2.4" stroke-dasharray="2.5 .8"/><path d="M38.5 22L48 13.5" stroke="#eee" stroke-width="1" stroke-dasharray="2.5 .8"/></g>
<g id="p4-merge" transform="translate(2708.5 1873)"><circle class="p" cx="-1.5" cy="7.2" r="2"/><circle class="p" cx="79.2" cy="7.2" r="2"/><rect class="b" width="78" height="15.3" rx="2.5"/><rect x="2" y="3.5" width="7" height="7.5" rx="1" fill="#ccc" stroke="#666" stroke-width=".6"/><text class="t" x="13" y="9.7">Meshes</text><text class="t" x="55" y="9.7">Mesh</text><rect x="40" y="3" width="5" height="8" fill="#d2541c" stroke="#7a2a10" stroke-width=".5"/><rect x="46" y="3" width="5" height="8" fill="#d2541c" stroke="#7a2a10" stroke-width=".5"/></g>
<g id="p4-panel" transform="translate(2635 2047)"><circle class="p" cx="-1.2" cy="16" r="2"/><circle class="p" cx="85.8" cy="16" r="2"/><rect class="y" width="84.6" height="32.3" rx="1"/><text class="ym" x="40" y="18">ROOF PANEL</text></g>
<g id="p4-slider75" transform="translate(2640.7 2106.4)"><use href="#slb"/><text class="t" x="3.5" y="8.6">Number Slider</text><text class="t" x="86" y="8.6">7.5</text><use href="#dm" x="99.6" y="6"/></g>
<g id="p4-shell" transform="translate(2831.3 1915.7)"><circle class="p" cx="-1.5" cy="6.6" r="2"/><circle class="p" cx="-1.5" cy="18" r="2"/><circle class="p" cx="-1.5" cy="29.3" r="2"/><circle class="p" cx="-1.5" cy="41" r="2"/><circle class="p" cx="-1.5" cy="52" r="2"/><circle class="p" cx="109" cy="8.3" r="2"/><circle class="p" cx="109" cy="23.3" r="2"/><circle class="p" cx="109" cy="38.6" r="2"/><rect class="b" width="107.5" height="58.6" rx="2.5"/><rect class="bar" x=".4" y="49.3" width="106.7" height="9"/><text class="t r" x="57.7" y="9.1">Mesh</text><text class="t r" x="57.7" y="20.5">Color</text><text class="t r" x="57.7" y="31.8">Identifier</text><text class="t r" x="57.7" y="43.5">Cross section</text><text class="t" x="77" y="10.8">Element</text><text class="t" x="77" y="25.8">Points</text><text class="t" x="77" y="41.1">Info</text><text class="bw" x="53" y="56.5">Options</text><path d="M62 23l5-3 6 3-3 5-6-1Z" fill="#3f66ea" stroke="#dfe6ff" stroke-width=".5"/></g>
<g id="p4-shellsection" transform="translate(2783.5 2047)"><circle class="p" cx="-1.5" cy="6.7" r="2"/><circle class="p" cx="-1.5" cy="18" r="2"/><circle class="p" cx="-1.5" cy="29.7" r="2"/><circle class="p" cx="-1.5" cy="41.3" r="2"/><circle class="p" cx="-1.5" cy="53" r="2"/><circle class="p" cx="-1.5" cy="64.3" r="2"/><circle class="p" cx="157.3" cy="35.7" r="2"/><rect class="b" width="156.1" height="98.7" rx="2.5"/><rect class="bar" x=".4" y="72" width="155.3" height="8.7"/><rect x="3" y="83.7" width="150" height="11" fill="#fff" stroke="#777" stroke-width=".6"/><rect x="146" y="85" width="5" height="8.4" fill="#fff" stroke="#666" stroke-width=".7"/><text class="t r" x="90.5" y="9.2">Family name of cross section</text><text class="t r" x="90.5" y="20.5">Name of cross section</text><text class="t r" x="90.5" y="32.2">Element|Identifier</text><text class="t r" x="90.5" y="43.8">Color</text><text class="t r" x="90.5" y="55.5">Material</text><text class="t r" x="90.5" y="66.8">Height</text><text class="t" x="109.8" y="38.2">Cross section</text><text class="bw" x="78" y="79">Cross Section:</text><text class="i" x="75" y="91.5">Shell Const</text><path d="M94 33l6-3 6 1-2 6-3 3-2-4Z" fill="none" stroke="#3f66ea" stroke-width="1.6"/></g>
</svg>
